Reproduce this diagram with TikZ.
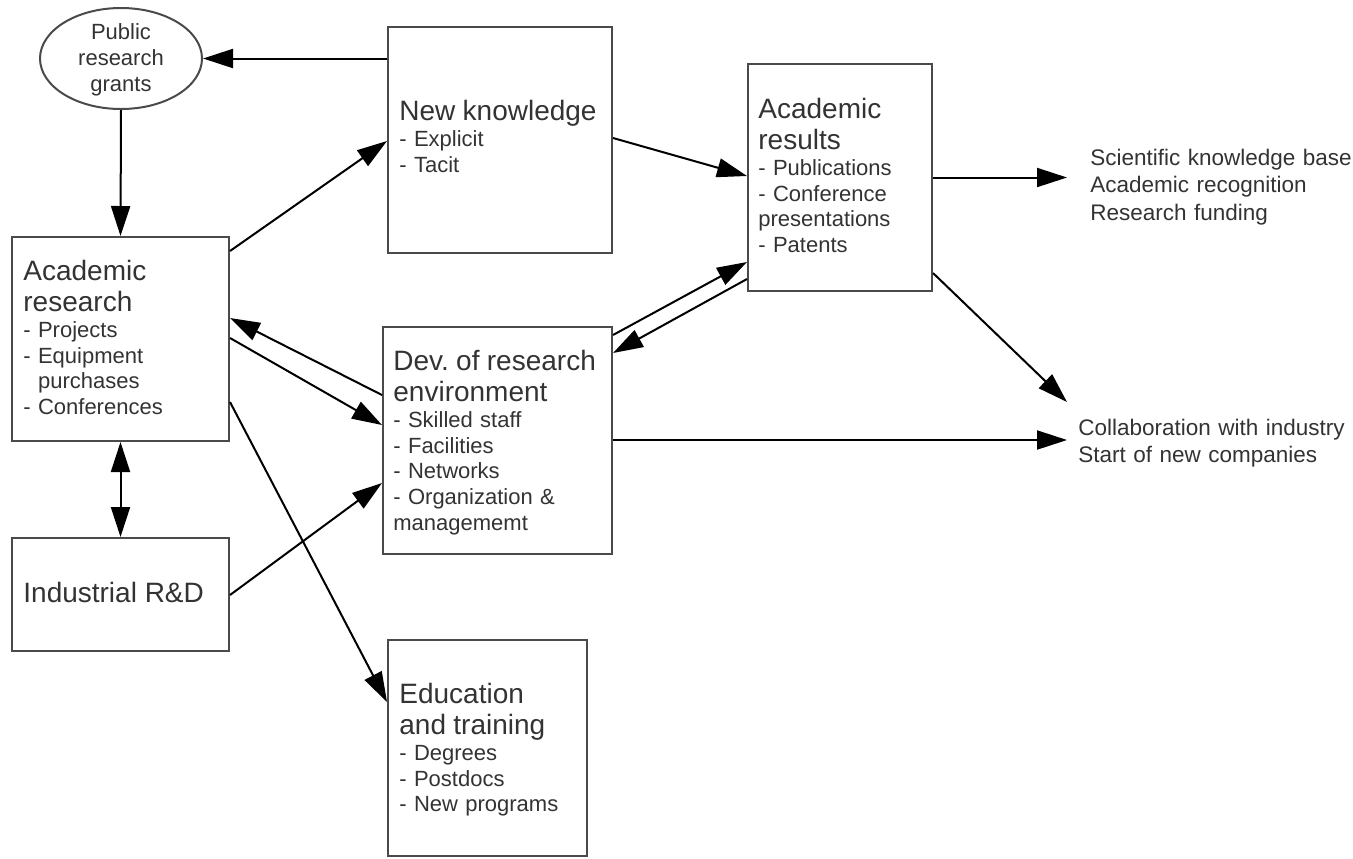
\documentclass[tikz,border=0pt]{standalone}
\usepackage{fontspec}
\setmainfont{Liberation Sans}
\usetikzlibrary{arrows.meta,shapes.geometric,fit}
\setlength{\parindent}{0pt}
\frenchspacing
\newcommand\hdfont{\fontsize{14pt}{15.5pt}\selectfont}
\newcommand\lifont{\fontsize{11pt}{12.9pt}\selectfont}
\newcommand\rtfont{\fontsize{11.25pt}{13.7pt}\selectfont}
\definecolor{txtc}{HTML}{333333}
\definecolor{boxc}{HTML}{4A4A4A}
\begin{document}
\begin{tikzpicture}[x=0.5pt,y=-0.5pt,
  box/.style={draw=boxc,line width=1pt,inner sep=0pt,rectangle},
  txt/.style={inner sep=0pt,anchor=north west,align=left,text=txtc,font=\lifont},
  rtxt/.style={inner sep=0pt,anchor=north west,align=left,text=txtc,font=\rtfont},
  arr/.style={draw=black,line width=1pt,-{Triangle[length=15pt,width=9.5pt]}},
  arrb/.style={draw=black,line width=1pt,{Triangle[length=15pt,width=9.5pt]}-{Triangle[length=15pt,width=9.5pt]}}]
\useasboundingbox (0,0) rectangle (1353,858);
\fill[white] (0,0) rectangle (1353,858);
% boxes
\node[ellipse,draw=boxc,line width=1pt,minimum width=81pt,minimum height=50.5pt,inner sep=0pt] (PG) at (121,58.5) {};
\node[box,fit={(12,237)(229,441)}] (AR) {};
\node[box,fit={(12,538)(229,651)}] (IRD) {};
\node[box,fit={(388,27)(612,253)}] (NK) {};
\node[box,fit={(748,64)(932,291)}] (ARes) {};
\node[box,fit={(383,327)(612,554)}] (Dev) {};
\node[box,fit={(388,640)(587,856)}] (Edu) {};
% texts
\node[txt,anchor=north,align=center,text width=60pt] (PGt) at (121,23.2) {Public\\research\\grants};
\node[txt,text width=100pt] (ARt) at (23,259.8) {{\hdfont Academic\\research\par}- Projects\\- Equipment\\\hphantom{- }purchases\\- Conferences};
\node[txt,anchor=base west,font=\hdfont] (IRDt) at (23,602) {Industrial R\&D};
\node[txt,text width=100pt] (NKt) at (399,99.8) {{\hdfont New knowledge\par}- Explicit\\- Tacit};
\node[txt,text width=84pt] (ARest) at (758,97.8) {{\hdfont Academic\\results\par}- Publications\\- Conference\\presentations\\- Patents};
\node[txt,text width=106pt] (Devt) at (393,349.8) {{\hdfont Dev. of research\\environment\par}- Skilled staff\\- Facilities\\- Networks\\- Organization \&\\managememt};
\node[txt,text width=92pt] (Edut) at (399,682.8) {{\hdfont Education\\and training\par}- Degrees\\- Postdocs\\- New programs};
\node[rtxt,text width=131pt] (SKB) at (1090,148.8) {Scientific knowledge base\\Academic recognition\\Research funding};
\node[rtxt,text width=136pt] (Col) at (1078,418.8) {Collaboration with industry\\Start of new companies};
\coordinate (SKBin) at (1067,177.5);
\coordinate (ColD) at (1067,402);
\coordinate (ColH) at (1067,440);
% connectors
\draw[arr] (NK.west |- PG.east) -- (PG.east);
\draw[arr] (PG.south) -- (AR.north);
\draw[arrb] (AR.south) -- (IRD.north);
\draw[arr] (AR.east |- 0,251) -- (NK.west |- 0,141);
\draw[arr] (Dev.west |- 0,395) -- (AR.east |- 0,318);
\draw[arr] (AR.east |- 0,338) -- (Dev.west |- 0,425);
\draw[arr] (AR.east |- 0,402) -- (Edu.west |- 0,702);
\draw[arr] (IRD.east |- 0,595) -- (Dev.west |- 0,483);
\draw[arr] (NK.east |- 0,138) -- (ARes.west |- 0,176);
\draw[arr] (Dev.east |- 0,335) -- (ARes.west |- 0,262);
\draw[arr] (ARes.west |- 0,279) -- (Dev.east |- 0,353);
\draw[arr] (ARes.east |- SKBin) -- (SKBin);
\draw[arr] (ARes.east |- 0,273) -- (ColD);
\draw[arr] (Dev.east |- ColH) -- (ColH);
\end{tikzpicture}
\end{document}
